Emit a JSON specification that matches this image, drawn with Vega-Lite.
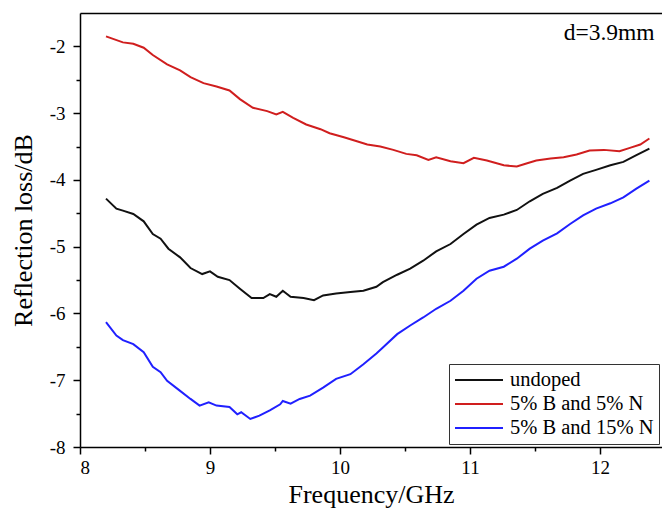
{
  "$schema": "https://vega.github.io/schema/vega-lite/v6.json",
  "width": 582,
  "height": 434,
  "autosize": {"type": "none"},
  "padding": {"left": 80, "top": 13, "right": 0, "bottom": 64},
  "background": "white",
  "config": {
    "font": "Liberation Serif",
    "view": {"stroke": null},
    "text": {"font": "Liberation Serif"},
    "legend": {"labelFont": "Liberation Serif", "titleFont": "Liberation Serif"},
    "axis": {
      "labelFont": "Liberation Serif",
      "titleFont": "Liberation Serif",
      "grid": false,
      "domainColor": "black",
      "domainWidth": 1.5,
      "tickColor": "black",
      "tickWidth": 1.5,
      "labelColor": "black",
      "labelFontSize": 19,
      "titleFontSize": 26,
      "titleFontWeight": "normal",
      "titleColor": "black"
    }
  },
  "resolve": {"axis": {"x": "independent", "y": "independent"}},
  "layer": [
    {
      "data": {
        "values": [
          {"s": "5% B and 5% N", "f": 8.2, "v": -1.85}, {"s": "5% B and 5% N", "f": 8.33, "v": -1.94}, {"s": "5% B and 5% N", "f": 8.41, "v": -1.96}, {"s": "5% B and 5% N", "f": 8.49, "v": -2.02}, {"s": "5% B and 5% N", "f": 8.56, "v": -2.13}, {"s": "5% B and 5% N", "f": 8.67, "v": -2.27}, {"s": "5% B and 5% N", "f": 8.77, "v": -2.36}, {"s": "5% B and 5% N", "f": 8.85, "v": -2.46}, {"s": "5% B and 5% N", "f": 8.95, "v": -2.55}, {"s": "5% B and 5% N", "f": 9.05, "v": -2.6}, {"s": "5% B and 5% N", "f": 9.15, "v": -2.66}, {"s": "5% B and 5% N", "f": 9.23, "v": -2.79}, {"s": "5% B and 5% N", "f": 9.33, "v": -2.92}, {"s": "5% B and 5% N", "f": 9.44, "v": -2.97}, {"s": "5% B and 5% N", "f": 9.51, "v": -3.02}, {"s": "5% B and 5% N", "f": 9.56, "v": -2.98}, {"s": "5% B and 5% N", "f": 9.64, "v": -3.07}, {"s": "5% B and 5% N", "f": 9.74, "v": -3.17}, {"s": "5% B and 5% N", "f": 9.85, "v": -3.24}, {"s": "5% B and 5% N", "f": 9.92, "v": -3.3}, {"s": "5% B and 5% N", "f": 10.03, "v": -3.36}, {"s": "5% B and 5% N", "f": 10.13, "v": -3.42}, {"s": "5% B and 5% N", "f": 10.21, "v": -3.47}, {"s": "5% B and 5% N", "f": 10.31, "v": -3.5}, {"s": "5% B and 5% N", "f": 10.41, "v": -3.55}, {"s": "5% B and 5% N", "f": 10.51, "v": -3.61}, {"s": "5% B and 5% N", "f": 10.59, "v": -3.63}, {"s": "5% B and 5% N", "f": 10.68, "v": -3.7}, {"s": "5% B and 5% N", "f": 10.74, "v": -3.66}, {"s": "5% B and 5% N", "f": 10.85, "v": -3.72}, {"s": "5% B and 5% N", "f": 10.95, "v": -3.75}, {"s": "5% B and 5% N", "f": 11.03, "v": -3.67}, {"s": "5% B and 5% N", "f": 11.13, "v": -3.71}, {"s": "5% B and 5% N", "f": 11.26, "v": -3.78}, {"s": "5% B and 5% N", "f": 11.36, "v": -3.8}, {"s": "5% B and 5% N", "f": 11.44, "v": -3.75}, {"s": "5% B and 5% N", "f": 11.51, "v": -3.71}, {"s": "5% B and 5% N", "f": 11.62, "v": -3.68}, {"s": "5% B and 5% N", "f": 11.72, "v": -3.66}, {"s": "5% B and 5% N", "f": 11.82, "v": -3.62}, {"s": "5% B and 5% N", "f": 11.92, "v": -3.56}, {"s": "5% B and 5% N", "f": 12.03, "v": -3.55}, {"s": "5% B and 5% N", "f": 12.15, "v": -3.57}, {"s": "5% B and 5% N", "f": 12.23, "v": -3.52}, {"s": "5% B and 5% N", "f": 12.31, "v": -3.47}, {"s": "5% B and 5% N", "f": 12.38, "v": -3.38},
          {"s": "undoped", "f": 8.2, "v": -4.28}, {"s": "undoped", "f": 8.28, "v": -4.43}, {"s": "undoped", "f": 8.33, "v": -4.46}, {"s": "undoped", "f": 8.41, "v": -4.51}, {"s": "undoped", "f": 8.49, "v": -4.62}, {"s": "undoped", "f": 8.56, "v": -4.81}, {"s": "undoped", "f": 8.62, "v": -4.88}, {"s": "undoped", "f": 8.68, "v": -5.03}, {"s": "undoped", "f": 8.77, "v": -5.16}, {"s": "undoped", "f": 8.85, "v": -5.32}, {"s": "undoped", "f": 8.94, "v": -5.41}, {"s": "undoped", "f": 9.0, "v": -5.37}, {"s": "undoped", "f": 9.06, "v": -5.45}, {"s": "undoped", "f": 9.15, "v": -5.5}, {"s": "undoped", "f": 9.23, "v": -5.63}, {"s": "undoped", "f": 9.32, "v": -5.77}, {"s": "undoped", "f": 9.41, "v": -5.77}, {"s": "undoped", "f": 9.46, "v": -5.71}, {"s": "undoped", "f": 9.51, "v": -5.75}, {"s": "undoped", "f": 9.56, "v": -5.66}, {"s": "undoped", "f": 9.62, "v": -5.75}, {"s": "undoped", "f": 9.72, "v": -5.77}, {"s": "undoped", "f": 9.8, "v": -5.8}, {"s": "undoped", "f": 9.87, "v": -5.73}, {"s": "undoped", "f": 9.97, "v": -5.7}, {"s": "undoped", "f": 10.08, "v": -5.68}, {"s": "undoped", "f": 10.18, "v": -5.66}, {"s": "undoped", "f": 10.28, "v": -5.6}, {"s": "undoped", "f": 10.33, "v": -5.53}, {"s": "undoped", "f": 10.44, "v": -5.42}, {"s": "undoped", "f": 10.54, "v": -5.33}, {"s": "undoped", "f": 10.64, "v": -5.21}, {"s": "undoped", "f": 10.74, "v": -5.07}, {"s": "undoped", "f": 10.85, "v": -4.96}, {"s": "undoped", "f": 10.95, "v": -4.81}, {"s": "undoped", "f": 11.05, "v": -4.67}, {"s": "undoped", "f": 11.15, "v": -4.57}, {"s": "undoped", "f": 11.26, "v": -4.52}, {"s": "undoped", "f": 11.36, "v": -4.45}, {"s": "undoped", "f": 11.46, "v": -4.32}, {"s": "undoped", "f": 11.56, "v": -4.21}, {"s": "undoped", "f": 11.67, "v": -4.12}, {"s": "undoped", "f": 11.77, "v": -4.01}, {"s": "undoped", "f": 11.87, "v": -3.91}, {"s": "undoped", "f": 11.97, "v": -3.85}, {"s": "undoped", "f": 12.08, "v": -3.78}, {"s": "undoped", "f": 12.18, "v": -3.73}, {"s": "undoped", "f": 12.28, "v": -3.63}, {"s": "undoped", "f": 12.38, "v": -3.53},
          {"s": "5% B and 15% N", "f": 8.2, "v": -6.13}, {"s": "5% B and 15% N", "f": 8.28, "v": -6.33}, {"s": "5% B and 15% N", "f": 8.33, "v": -6.4}, {"s": "5% B and 15% N", "f": 8.41, "v": -6.46}, {"s": "5% B and 15% N", "f": 8.49, "v": -6.58}, {"s": "5% B and 15% N", "f": 8.56, "v": -6.8}, {"s": "5% B and 15% N", "f": 8.62, "v": -6.88}, {"s": "5% B and 15% N", "f": 8.67, "v": -7.01}, {"s": "5% B and 15% N", "f": 8.77, "v": -7.16}, {"s": "5% B and 15% N", "f": 8.85, "v": -7.28}, {"s": "5% B and 15% N", "f": 8.92, "v": -7.38}, {"s": "5% B and 15% N", "f": 8.99, "v": -7.33}, {"s": "5% B and 15% N", "f": 9.05, "v": -7.38}, {"s": "5% B and 15% N", "f": 9.15, "v": -7.4}, {"s": "5% B and 15% N", "f": 9.21, "v": -7.51}, {"s": "5% B and 15% N", "f": 9.24, "v": -7.48}, {"s": "5% B and 15% N", "f": 9.31, "v": -7.58}, {"s": "5% B and 15% N", "f": 9.38, "v": -7.53}, {"s": "5% B and 15% N", "f": 9.46, "v": -7.45}, {"s": "5% B and 15% N", "f": 9.54, "v": -7.36}, {"s": "5% B and 15% N", "f": 9.56, "v": -7.31}, {"s": "5% B and 15% N", "f": 9.62, "v": -7.35}, {"s": "5% B and 15% N", "f": 9.69, "v": -7.28}, {"s": "5% B and 15% N", "f": 9.77, "v": -7.23}, {"s": "5% B and 15% N", "f": 9.87, "v": -7.11}, {"s": "5% B and 15% N", "f": 9.97, "v": -6.98}, {"s": "5% B and 15% N", "f": 10.08, "v": -6.91}, {"s": "5% B and 15% N", "f": 10.18, "v": -6.76}, {"s": "5% B and 15% N", "f": 10.28, "v": -6.6}, {"s": "5% B and 15% N", "f": 10.33, "v": -6.51}, {"s": "5% B and 15% N", "f": 10.44, "v": -6.31}, {"s": "5% B and 15% N", "f": 10.54, "v": -6.18}, {"s": "5% B and 15% N", "f": 10.64, "v": -6.06}, {"s": "5% B and 15% N", "f": 10.74, "v": -5.93}, {"s": "5% B and 15% N", "f": 10.85, "v": -5.81}, {"s": "5% B and 15% N", "f": 10.95, "v": -5.66}, {"s": "5% B and 15% N", "f": 11.05, "v": -5.48}, {"s": "5% B and 15% N", "f": 11.15, "v": -5.36}, {"s": "5% B and 15% N", "f": 11.26, "v": -5.3}, {"s": "5% B and 15% N", "f": 11.36, "v": -5.18}, {"s": "5% B and 15% N", "f": 11.46, "v": -5.03}, {"s": "5% B and 15% N", "f": 11.56, "v": -4.91}, {"s": "5% B and 15% N", "f": 11.67, "v": -4.8}, {"s": "5% B and 15% N", "f": 11.77, "v": -4.66}, {"s": "5% B and 15% N", "f": 11.87, "v": -4.53}, {"s": "5% B and 15% N", "f": 11.97, "v": -4.43}, {"s": "5% B and 15% N", "f": 12.08, "v": -4.35}, {"s": "5% B and 15% N", "f": 12.18, "v": -4.26}, {"s": "5% B and 15% N", "f": 12.28, "v": -4.13}, {"s": "5% B and 15% N", "f": 12.38, "v": -4.01}
        ]
      },
      "mark": {"type": "line", "strokeWidth": 2},
      "encoding": {
        "x": {
          "field": "f", "type": "quantitative",
          "scale": {"domain": [8, 12.477], "nice": false, "zero": false},
          "axis": {
            "title": "Frequency/GHz",
            "values": [8, 8.5, 9, 9.5, 10, 10.5, 11, 11.5, 12],
            "labelExpr": "datum.value % 1 === 0 ? '' + datum.value : ''",
            "tickSize": {"condition": {"test": "datum.value % 1 !== 0", "value": 4}, "value": 7},
            "labelPadding": 4,
            "titlePadding": 4
          }
        },
        "y": {
          "field": "v", "type": "quantitative",
          "scale": {"domain": [-8, -1.5], "nice": false, "zero": false},
          "axis": {
            "title": "Reflection loss/dB",
            "values": [-8, -7.5, -7, -6.5, -6, -5.5, -5, -4.5, -4, -3.5, -3, -2.5, -2],
            "labelExpr": "datum.value % 1 === 0 ? '' + datum.value : ''",
            "tickSize": {"condition": {"test": "datum.value % 1 !== 0", "value": 4}, "value": 7},
            "labelPadding": 8,
            "titlePadding": 13
          }
        },
        "color": {
          "field": "s", "type": "nominal",
          "scale": {"domain": ["undoped", "5% B and 5% N", "5% B and 15% N"], "range": ["#111111", "#d01e1e", "#2020ff"]},
          "legend": {
            "orient": "none", "legendX": 369, "legendY": 351,
            "title": null, "strokeColor": "#333333", "fillColor": "white",
            "padding": 5, "symbolType": "M-2.4,0L2.4,0", "symbolSize": 400, "symbolStrokeWidth": 2,
            "symbolOffset": 14,
            "labelFont": "Liberation Serif",
            "labelFontSize": 20.5, "labelColor": "black", "labelLimit": 300, "rowPadding": 2, "labelOffset": 20
          }
        }
      }
    },
    {
      "data": {"values": [{}]},
      "mark": {"type": "text", "text": "d=3.9mm", "align": "right", "baseline": "middle", "fontSize": 23.5, "color": "black", "font": "Liberation Serif"},
      "encoding": {
        "x": {"datum": 12.42, "type": "quantitative", "axis": {"orient": "top", "labels": false, "ticks": false, "title": null, "domainColor": "black", "domainWidth": 1.5}},
        "y": {"datum": -1.8, "type": "quantitative", "axis": null}
      }
    }
  ]
}
